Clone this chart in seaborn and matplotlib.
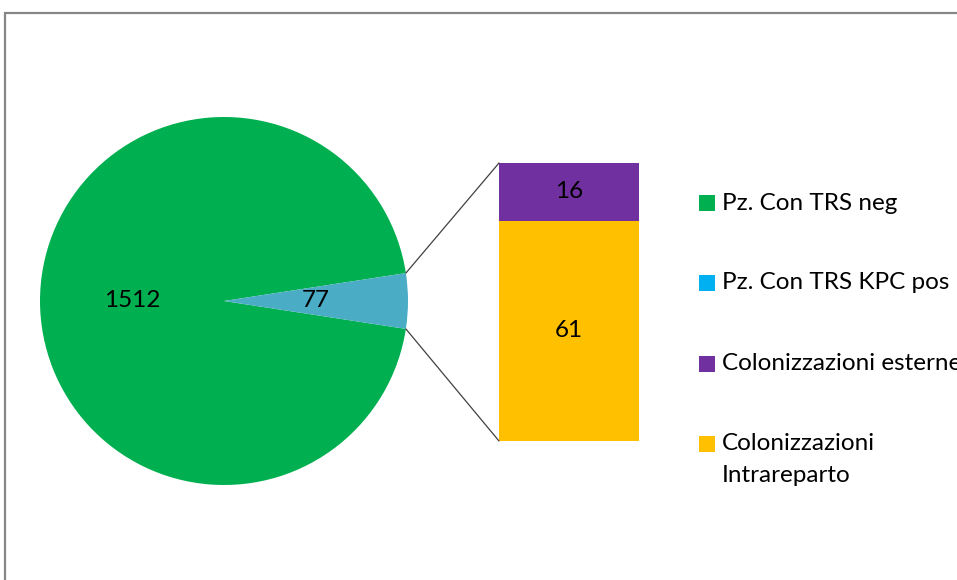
import numpy as np
import pandas as pd
import matplotlib
matplotlib.use("Agg")
import matplotlib.pyplot as plt
from matplotlib.patches import ConnectionPatch, Rectangle
from matplotlib.lines import Line2D
import seaborn as sns

# Patients screened: negative vs KPC-positive
pie_labels = ["Pz. Con TRS neg", "Pz. Con TRS KPC pos"]
pie_values = [1512, 77]
pie_colors = ["#00B050", "#4BACC6"]
legend_pie_colors = ["#00B050", "#00B0F0"]

# Breakdown of the KPC-positive patients
bar_labels = ["Colonizzazioni esterne", "Colonizzazioni\nIntrareparto"]
bar_values = [16, 61]
bar_colors = ["#7030A0", "#FFC000"]

sns.set_theme(style="white")
plt.rcParams["font.family"] = ["Lato", "DejaVu Sans"]
FS = 17.5

W, H = 957, 580
fig = plt.figure(figsize=(W / 100, H / 100), dpi=100)
fig.patch.set_facecolor("white")


def px_axes(x0, y0, x1, y1):
    """Axes from pixel box (top-left origin)."""
    return fig.add_axes([x0 / W, 1 - y1 / H, (x1 - x0) / W, (y1 - y0) / H])


# Chart border (gray frame running off the right and bottom edges)
fig.add_artist(Line2D([5 / W, 5 / W, 1.0], [0.0, 1 - 13 / H, 1 - 13 / H],
                      transform=fig.transFigure, color="#868686", lw=1.6,
                      solid_joinstyle="miter"))

# Pie
cx, cy, r = 224, 301, 184
ax_pie = px_axes(cx - r, cy - r, cx + r, cy + r)
total = sum(pie_values)
half_angle = pie_values[1] / total * 180.0
ax_pie.pie(pie_values, colors=pie_colors, startangle=half_angle,
           counterclock=True, radius=1.0,
           autopct=lambda p: f"{round(p * total / 100)}", pctdistance=0.5,
           textprops=dict(fontsize=FS, color="black"),
           wedgeprops=dict(linewidth=0))
ax_pie.set_xlim(-1, 1)
ax_pie.set_ylim(-1, 1)
ax_pie.axis("off")

# Stacked bar for the KPC-positive breakdown
ax_bar = px_axes(499, 163, 639, 441)
df_low = pd.DataFrame({"grp": ["KPC"], "n": [bar_values[1]]})
df_top = pd.DataFrame({"grp": ["KPC"], "n": [bar_values[0]]})
sns.barplot(data=df_low, x="grp", y="n", color=bar_colors[1], width=1.0,
            saturation=1, linewidth=0, ax=ax_bar)
sns.barplot(data=df_top, x="grp", y="n", color=bar_colors[0], width=1.0,
            saturation=1, linewidth=0, bottom=bar_values[1], ax=ax_bar)
for cont in ax_bar.containers:
    ax_bar.bar_label(cont, label_type="center", fontsize=FS, color="black")
ax_bar.set_xlim(-0.5, 0.5)
ax_bar.set_ylim(0, sum(bar_values))
ax_bar.axis("off")

# Connector lines from the small slice to the bar
theta = np.deg2rad(half_angle)
for sgn, ybar in ((1, sum(bar_values)), (-1, 0)):
    con = ConnectionPatch(xyA=(np.cos(theta), sgn * np.sin(theta)), coordsA=ax_pie.transData,
                          xyB=(-0.5, ybar), coordsB=ax_bar.transData,
                          color="#404040", lw=0.9)
    fig.add_artist(con)

# Legend
legend_items = [
    (pie_labels[0], legend_pie_colors[0], 203),
    (pie_labels[1], legend_pie_colors[1], 283),
    (bar_labels[0], bar_colors[0], 364),
    (bar_labels[1], bar_colors[1], 444),
]
for label, color, yc in legend_items:
    fig.add_artist(Rectangle((699 / W, 1 - (yc + 8) / H), 16 / W, 16 / H,
                             transform=fig.transFigure, facecolor=color, edgecolor="none"))
    fig.text(722 / W, 1 - yc / H, label.split("\n")[0], fontsize=FS,
             va="center", ha="left", color="black")
    if "\n" in label:
        fig.text(722 / W, 1 - (yc + 32) / H, label.split("\n")[1], fontsize=FS,
                 va="center", ha="left", color="black")

fig.savefig("out.png", dpi=100, facecolor="white")
